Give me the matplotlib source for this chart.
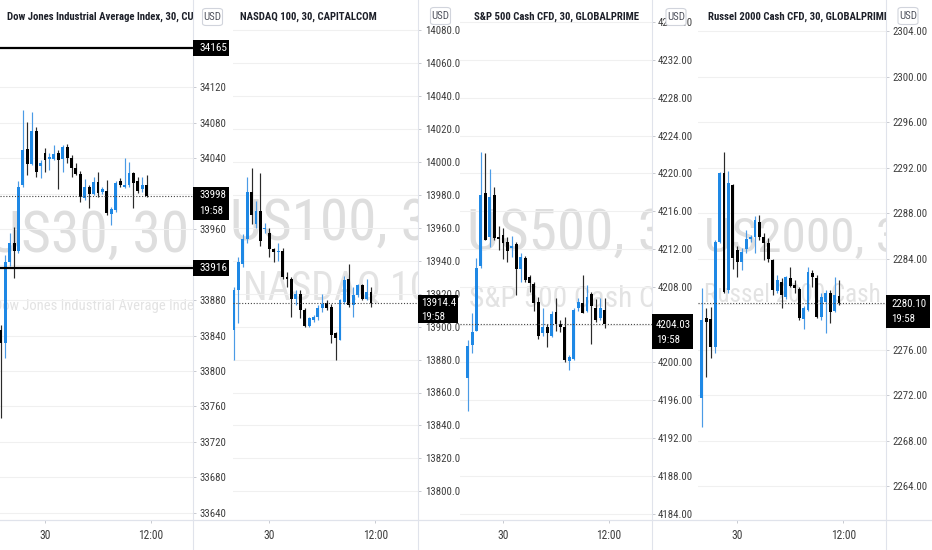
import matplotlib
matplotlib.use('Agg')
import matplotlib.pyplot as plt
import matplotlib.font_manager as fm
from matplotlib.patches import Rectangle, FancyBboxPatch
from matplotlib.lines import Line2D
import numpy as np

# ---------------- data ----------------
time_ticks = [0, 24]
time_labels = ['30', '12:00']

dow_title = 'Dow Jones Industrial Average Index, 30, CURRENCYCOM'
dow_symbol = 'US30, 30'
dow_desc = 'Dow Jones Industrial Average Index'
dow_start = -10
dow_open = [33846, 33832, 33923, 33944, 33936, 34010, 34051, 34034, 34071, 34031,
            34046, 34039, 34039, 34046, 34039, 34053, 34040, 34029, 34022, 33995,
            34008, 34000, 34013, 34002, 34003, 33977, 33982, 34015, 34008, 34010,
            34024, 34015, 34005, 34010]
dow_high = [33852, 33931, 33956, 33962, 34014, 34095, 34081, 34092, 34075, 34038,
            34052, 34046, 34055, 34050, 34055, 34056, 34044, 34035, 34026, 34017,
            34010, 34019, 34025, 34008, 34016, 33985, 34015, 34018, 34040, 34036,
            34025, 34019, 34019, 34021]
dow_low = [33747, 33815, 33919, 33905, 33933, 34008, 34021, 34033, 34019, 34018,
           34025, 34027, 34038, 34005, 34025, 34035, 34019, 34021, 33991, 33993,
           33984, 33999, 33996, 34000, 33976, 33965, 33980, 34008, 34007, 34008,
           33984, 34001, 34002, 33996]
dow_close = [33832, 33923, 33944, 33936, 34008, 34050, 34034, 34071, 34025, 34035,
             34038, 34042, 34045, 34038, 34053, 34040, 34029, 34022, 33996, 34008,
             34000, 34013, 34001, 34005, 33978, 33983, 34012, 34010, 34010, 34024,
             34012, 34003, 34010, 33998]
dow_ticks = [33640, 33680, 33720, 33760, 33800, 33840, 33880, 33920, 33960, 34000,
             34040, 34080, 34120]
dow_levels = [34165, 33916]

ndx_title = 'NASDAQ 100, 30, CAPITALCOM'
ndx_symbol = 'US100, 30'
ndx_desc = 'NASDAQ 100'
ndx_start = -8
ndx_open = [13898, 13922, 13938, 13953, 13982, 13962, 13970, 13959, 13957, 13947,
            13945, 13946, 13930, 13929, 13917, 13920, 13910, 13900.4, 13904, 13906,
            13911, 13914.5, 13912, 13896, 13892, 13915, 13929, 13913, 13919, 13925,
            13917, 13921]
ndx_high = [13924, 13942, 13956, 13991, 13996, 13976, 13993, 13963, 13960, 13948,
            13951, 13948, 13933, 13930, 13922, 13922, 13911, 13906, 13907, 13913,
            13920, 13916, 13914, 13897, 13917, 13931, 13938, 13924, 13926, 13926,
            13929, 13924]
ndx_low = [13880, 13902, 13936, 13951, 13962, 13960, 13949, 13957, 13942, 13939,
           13940, 13929, 13924, 13906, 13913, 13905, 13900, 13900, 13903, 13904,
           13909, 13910, 13890, 13880, 13892, 13914, 13912, 13906, 13918, 13916,
           13916, 13912]
ndx_close = [13922, 13939, 13953, 13982, 13968, 13970, 13952, 13960, 13947, 13945,
             13946, 13930, 13929, 13917, 13920, 13910, 13900.4, 13905, 13906, 13911,
             13914, 13911, 13895, 13893, 13916, 13928, 13913, 13919, 13925, 13917,
             13921, 13914.4]
ndx_ticks = [13800, 13820, 13840, 13860, 13880, 13900, 13920, 13940, 13960, 13980,
             14000, 14020, 14040, 14060, 14080]

spx_title = 'S&P 500 Cash CFD, 30, GLOBALPRIME'
spx_symbol = 'US500, 30'
spx_desc = 'S&P 500 Cash CFD'
spx_start = -8
spx_open = [4198.32, 4201.84, 4203.35, 4210.20, 4217.90, 4213.24, 4217.71, 4213.24,
            4213.48, 4212.77, 4212.07, 4212.53, 4209.85, 4211.00, 4209.00, 4208.30,
            4206.42, 4203.08, 4203.78, 4202.79, 4205.37, 4204.03, 4203.78, 4200.18,
            4200.33, 4205.73, 4206.32, 4205.47, 4207.24, 4205.73, 4204.73, 4205.54]
spx_high = [4202.37, 4205.20, 4211.00, 4222.30, 4222.19, 4220.43, 4218.60, 4214.43,
            4214.19, 4213.30, 4213.38, 4212.77, 4211.54, 4211.30, 4209.25, 4208.54,
            4206.95, 4205.73, 4204.07, 4205.47, 4206.78, 4204.50, 4204.84, 4200.78,
            4205.73, 4206.78, 4209.25, 4208.19, 4207.48, 4206.68, 4206.78, 4206.78]
spx_low = [4194.89, 4200.96, 4203.30, 4210.00, 4212.90, 4212.24, 4212.90, 4211.90,
           4210.91, 4210.66, 4211.19, 4207.13, 4208.54, 4208.50, 4207.48, 4205.47,
           4202.44, 4202.79, 4201.60, 4202.70, 4203.35, 4203.25, 4200.07, 4199.20,
           4200.25, 4205.47, 4205.20, 4205.30, 4201.95, 4204.30, 4204.49, 4203.60]
spx_close = [4201.74, 4203.25, 4209.96, 4217.71, 4212.95, 4217.47, 4213.13, 4213.06,
             4212.67, 4211.82, 4212.32, 4209.85, 4211.12, 4208.72, 4208.37, 4206.32,
             4202.79, 4203.78, 4203.08, 4205.12, 4204.07, 4203.78, 4200.25, 4200.60,
             4205.54, 4206.42, 4205.26, 4206.95, 4205.97, 4204.49, 4205.73, 4204.03]
spx_ticks = [4184, 4188, 4192, 4196, 4200, 4204, 4208, 4212, 4216, 4220, 4224, 4228,
             4232, 4236]

rut_title = 'Russel 2000 Cash CFD, 30, GLOBALPRIME'
rut_symbol = 'US2000, 30'
rut_desc = 'Russel 2000 Cash CFD'
rut_start = -8
rut_open = [2271.71, 2278.75, 2278.66, 2276.25, 2285.49, 2291.56, 2281.24, 2290.47,
            2284.76, 2283.73, 2284.82, 2285.70, 2285.88, 2287.25, 2285.93, 2285.35,
            2283.88, 2281.18, 2281.97, 2280.65, 2282.27, 2281.65, 2281.30, 2278.66,
            2279.48, 2282.76, 2282.27, 2278.89, 2280.21, 2281.00, 2279.42, 2280.71]
rut_high = [2281.39, 2279.63, 2279.77, 2285.64, 2291.64, 2293.40, 2291.73, 2290.60,
            2285.11, 2284.91, 2286.52, 2286.10, 2287.75, 2287.84, 2286.23, 2285.80,
            2284.00, 2282.56, 2282.27, 2282.47, 2283.29, 2282.12, 2281.53, 2279.80,
            2283.29, 2283.00, 2282.56, 2280.95, 2281.20, 2281.20, 2282.36, 2282.12]
rut_low = [2269.22, 2273.61, 2275.23, 2275.67, 2285.40, 2280.95, 2281.00, 2283.06,
           2282.36, 2283.00, 2284.52, 2285.50, 2284.47, 2285.60, 2283.88, 2283.73,
           2280.80, 2281.00, 2279.63, 2280.42, 2281.50, 2281.00, 2278.60, 2277.78,
           2279.40, 2281.53, 2278.80, 2278.60, 2277.48, 2278.31, 2279.30, 2279.92]
rut_close = [2278.60, 2278.45, 2276.25, 2285.49, 2291.50, 2281.09, 2290.62, 2284.03,
             2283.73, 2284.61, 2285.70, 2285.93, 2287.40, 2285.88, 2285.35, 2283.94,
             2281.24, 2282.12, 2280.80, 2282.36, 2281.59, 2281.39, 2278.75, 2279.63,
             2282.85, 2282.36, 2278.89, 2280.65, 2281.00, 2279.33, 2280.80, 2280.10]
rut_ticks = [2264, 2268, 2272, 2276, 2280, 2284, 2288, 2292, 2296, 2300, 2304]

countdown = '19:58'

# ---------------- fonts ----------------
names = {f.name for f in fm.fontManager.ttflist}
def pick(*cands):
    for c in cands:
        if c in names:
            return c
    return 'DejaVu Sans'
NARROW = pick('Liberation Sans Narrow', 'Roboto Condensed', 'Liberation Sans', 'Roboto')
plt.rcParams['font.family'] = [NARROW, 'DejaVu Sans']

# ---------------- layout ----------------
W, H = 932, 550
SP = 4.42            # px per candle
AXIS_Y = 520         # px, bottom of panes
BLUE = '#1e88e5'
BLUE_WICK = '#4b9be6'
BLACK = '#000000'
BLACK_WICK = '#2a2a2a'
LABEL_C = '#3f3f3f'
LINE_C = '#e0e3eb'
GRID_C = '#f0f0f0'
WM1_C = '#dedede'
WM2_C = '#e3e3e3'

fig = plt.figure(figsize=(W / 100, H / 100), dpi=100)
fig.patch.set_facecolor('white')
renderer = fig.canvas.get_renderer()

def fx(x):
    return x / W

def fy(y):
    return 1 - y / H

panels = [
    dict(title=dow_title, sym=dow_symbol, desc=dow_desc, start=dow_start,
         o=dow_open, h=dow_high, l=dow_low, c=dow_close, ticks=dow_ticks, fmt='{:.0f}',
         x0=0, x1=193, x30=45, vref=34120, yref=87.5, k=0.886, levels=dow_levels,
         cx=89, cx2=97, b1=252, w1=200, b2=310, w2=206, tx=7, usd=(212.5, 17), box_r=229,
         cur_box=(187, 220), cur_txt=(195.5, 211), cur_dx=6),
    dict(title=ndx_title, sym=ndx_symbol, desc=ndx_desc, start=ndx_start,
         o=ndx_open, h=ndx_high, l=ndx_low, c=ndx_close, ticks=ndx_ticks, fmt='{:.1f}',
         x0=233, x1=418.3, x30=269.3, vref=14060, yref=63, k=1.6475, levels=[],
         cx=344, cx2=346, b1=240, w1=227, b2=300, w2=206, tx=240, usd=(440.5, 16), box_r=458,
         cur_box=(295, 323), cur_txt=(302.5, 317), cur_dx=3),
    dict(title=spx_title, sym=spx_symbol, desc=spx_desc, start=spx_start,
         o=spx_open, h=spx_high, l=spx_low, c=spx_close, ticks=spx_ticks, fmt='{:.2f}',
         x0=460, x1=651.7, x30=503, vref=4232, yref=60, k=9.45, levels=[],
         cx=581, cx2=578, b1=250, w1=227, b2=307, w2=218, tx=474, usd=(676, 17), box_r=693,
         cur_box=(314, 349), cur_txt=(324.5, 340), cur_dx=4),
    dict(title=rut_title, sym=rut_symbol, desc=rut_desc, start=rut_start,
         o=rut_open, h=rut_high, l=rut_low, c=rut_close, ticks=rut_ticks, fmt='{:.2f}',
         x0=698, x1=886, x30=737.3, vref=2300, yref=76.7, k=11.37, levels=[],
         cx=814, cx2=815, b1=252, w1=221, b2=302, w2=224, tx=708, usd=(908, 16), box_r=930,
         cur_box=(295, 328), cur_txt=(304, 319), cur_dx=5),
]

# title font size fitted on the S&P title width (bold)
probe = fig.text(0, 0, spx_title, fontsize=9, fontweight='bold')
tw = probe.get_window_extent(renderer).width
TITLE_FS = 9 * 166 / tw
probe.remove()

TICK_FS = 7.8

for p in panels:
    ax = fig.add_axes([fx(p['x0']), fy(AXIS_Y), fx(p['x1']) - fx(p['x0']), AXIS_Y / H])
    ymax = p['vref'] + p['yref'] / p['k']
    ymin = p['vref'] - (AXIS_Y - p['yref']) / p['k']
    ax.set_xlim((p['x0'] - p['x30']) / SP, (p['x1'] - p['x30']) / SP)
    ax.set_ylim(ymin, ymax)
    for s in ax.spines.values():
        s.set_visible(False)
    ax.set_facecolor('white')

    # axes ticks
    ax.yaxis.tick_right()
    ax.set_yticks(p['ticks'])
    ax.set_yticklabels([p['fmt'].format(v) for v in p['ticks']])
    ax.tick_params(axis='y', length=2.2, width=0.7, color='#c8cad0', pad=2.4,
                   labelsize=TICK_FS, labelcolor=LABEL_C)
    ax.set_xticks(time_ticks)
    ax.set_xticklabels(time_labels)
    ax.tick_params(axis='x', length=2.2, width=0.7, color='#c8cad0', pad=4.0,
                   labelsize=TICK_FS + 0.5, labelcolor=LABEL_C)
    ax.grid(axis='y', color=GRID_C, lw=0.8)
    ax.set_axisbelow(True)

    # watermark
    t1 = ax.text(fx(p['cx']), fy(p['b1']), p['sym'], transform=fig.transFigure,
                 ha='center', va='baseline', fontsize=40, color=WM1_C, clip_on=True, zorder=0.5)
    t1.set_fontsize(40 * p['w1'] / t1.get_window_extent(renderer).width)
    t2 = ax.text(fx(p['cx2']), fy(p['b2']), p['desc'], transform=fig.transFigure,
                 ha='center', va='baseline', fontsize=20, color=WM2_C, clip_on=True, zorder=0.5)
    t2.set_fontsize(20 * p['w2'] / t2.get_window_extent(renderer).width)

    # candles
    n = len(p['o'])
    xs = np.arange(p['start'], p['start'] + n)
    o = np.array(p['o'], float); c = np.array(p['c'], float)
    hi = np.array(p['h'], float); lo = np.array(p['l'], float)
    up = c >= o
    body_col = np.where(up, BLUE, BLACK)
    wick_col = np.where(up, BLUE_WICK, BLACK_WICK)
    minh = 1.2 / p['k']
    ax.vlines(xs, lo, hi, colors=wick_col, lw=0.85, zorder=3)
    heights = np.maximum(np.abs(c - o), minh)
    ax.bar(xs, heights, bottom=np.minimum(o, c), width=0.66, color=body_col,
           linewidth=0, zorder=4)

    # level lines and current price line
    for lv in p['levels']:
        ax.axhline(lv, color='black', lw=1.6, zorder=5)
    ax.axhline(c[-1], color='#444444', lw=0.8, ls=(0, (1, 1.6)), zorder=5)

    # title
    ax.text(fx(p['tx']), fy(17), p['title'], transform=fig.transFigure, ha='left',
            va='center', fontsize=TITLE_FS, fontweight='bold', color='#1d2029',
            clip_on=True, zorder=6)

    # separator between pane and price scale
    fig.add_artist(Line2D([fx(p['x1']), fx(p['x1'])], [0, 1], transform=fig.transFigure,
                          color=LINE_C, lw=0.8))

    # price scale labels
    sx = p['x1']
    def blackbox(y0, y1):
        fig.add_artist(Rectangle((fx(sx), fy(y1)), fx(p['box_r']) - fx(sx), (y1 - y0) / H,
                                 transform=fig.transFigure, facecolor='black',
                                 edgecolor='none', zorder=10))
    for lv in p['levels']:
        yc = p['yref'] + (p['vref'] - lv) * p['k']
        blackbox(yc - 8, yc + 8)
        fig.text(fx(sx + 6), fy(yc), p['fmt'].format(lv), color='white', fontsize=TICK_FS + 0.3,
                 ha='left', va='center', zorder=11)
    yb0, yb1 = p['cur_box']
    blackbox(yb0, yb1)
    fig.text(fx(sx + p['cur_dx']), fy(p['cur_txt'][0]), p['fmt'].format(c[-1]), color='white',
             fontsize=TICK_FS, ha='left', va='center', zorder=11)
    fig.text(fx(sx + p['cur_dx']), fy(p['cur_txt'][1]), countdown, color='white',
             fontsize=TICK_FS, ha='left', va='center', zorder=11)

    # USD badge
    ux, uy = p['usd']
    fig.add_artist(FancyBboxPatch((fx(ux - 10), fy(uy + 8.5)), fx(20), 17 / H,
                                  boxstyle='round,pad=0,rounding_size=0.004',
                                  transform=fig.transFigure, facecolor='white',
                                  edgecolor='#d1d4dc', lw=0.8, zorder=10))
    fig.text(fx(ux), fy(uy), 'USD', color='#50535e', fontsize=7.8, ha='center',
             va='center', zorder=11)

# bottom time axis line
fig.add_artist(Line2D([0, 1], [fy(AXIS_Y), fy(AXIS_Y)], transform=fig.transFigure,
                      color=LINE_C, lw=0.9))

fig.savefig('out.png', dpi=100, facecolor='white')
